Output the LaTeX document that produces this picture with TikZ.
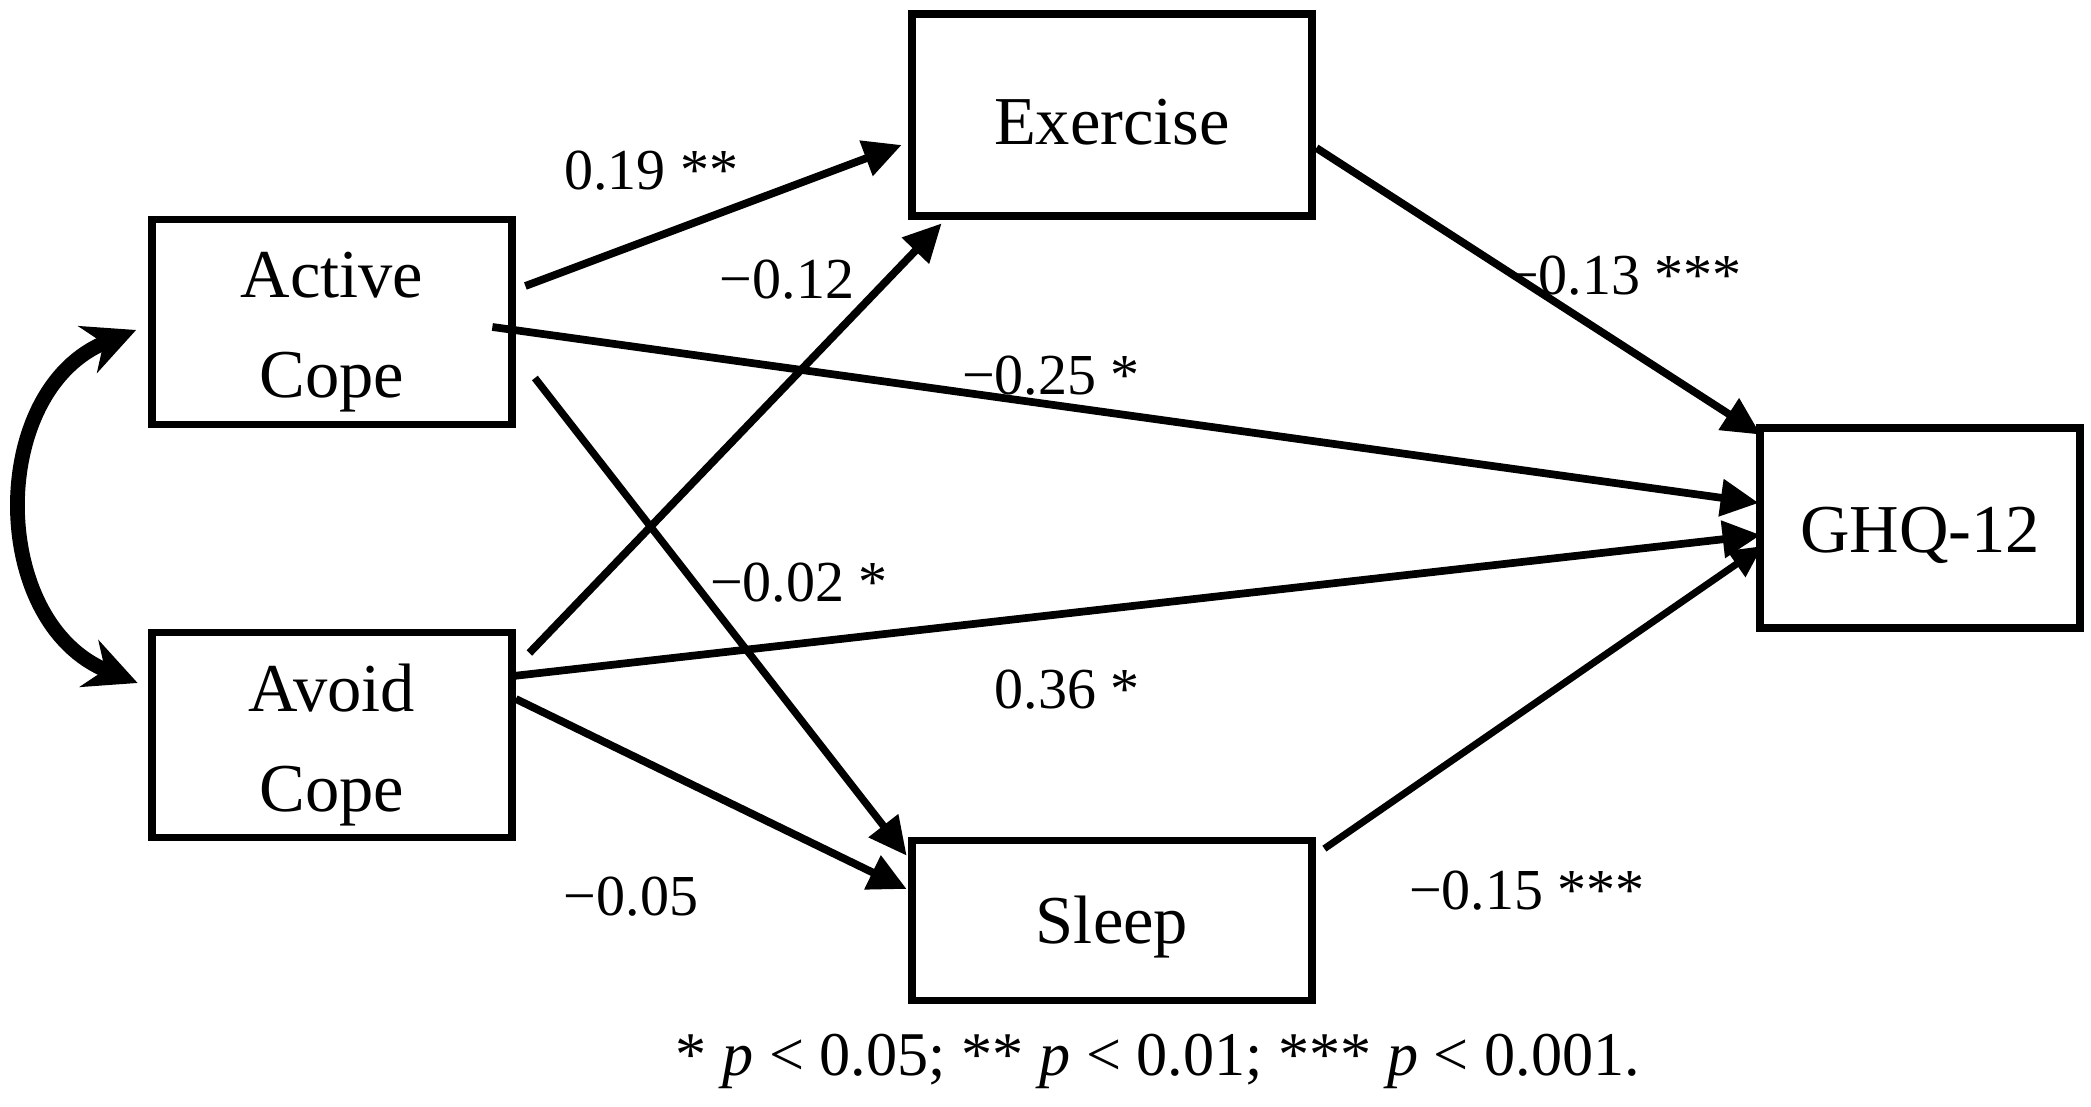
\documentclass[tikz,border=0pt]{standalone}
\usepackage{fontspec}
\setmainfont{Liberation Serif}
\usepackage{tikz}
\usetikzlibrary{arrows.meta,positioning}

\tikzset{
  var/.style={draw, line width=2.2pt, align=center, inner sep=0pt,
    font=\fontsize{19.5}{28.5}\selectfont, execute at begin node={\rule{0pt}{17pt}}},
  cope/.style={draw, line width=2.2pt, minimum width=3.6cm, minimum height=2.05cm},
  copetext/.style={align=center, inner sep=0pt, font=\fontsize{19.5}{28.5}\selectfont},
  effect/.style={line width=2.2pt, -{Triangle[length=0.38cm,width=0.36cm]}},
  coef/.style={font=\fontsize{16.5}{19}\selectfont}
}

\begin{document}
\begin{tikzpicture}
\useasboundingbox (0,0) rectangle (20.91,11.06);
\node[cope] (act) at (3.32,7.84) {};
\node[copetext] (acttext) at ([yshift=-0.1cm]act.center) {Active\\Cope};
\node[cope] (avo) at (3.32,3.71) {};
\node[copetext] (avotext) at ([yshift=-0.1cm]avo.center) {Avoid\\Cope};
\node[var, minimum width=4.0cm, minimum height=2.02cm] (exe) at (11.12,9.91) {Exercise};
\node[var, minimum width=4.0cm, minimum height=1.6cm] (slp) at (11.12,1.855) {Sleep};
\node[var, minimum width=3.2cm, minimum height=2.0cm] (ghq) at (19.2,5.78) {GHQ-12};

\draw[line width=4.2pt, {Stealth[length=0.52cm,width=0.5cm]}-{Stealth[length=0.52cm,width=0.5cm]}]
  ([shift={(-0.12,-0.08)}]act.west) .. controls (-0.13,7.16) and (-0.12,4.83) .. ([shift={(-0.105,0.52)}]avo.west);

\draw[effect] ([shift={(0.095,0.36)}]act.east) -- ([shift={(-0.065,-0.3)}]exe.west);
\draw[effect] ([shift={(0.135,0.82)}]avo.east) -- ([shift={(0.335,-0.035)}]exe.south west);
\draw[effect] ([shift={(0.005,-0.33)}]exe.east) -- ([shift={(0.045,-0.105)}]ghq.north west);
\draw[effect] ([shift={(-0.235,-0.05)}]act.east) -- ([shift={(0.025,0.25)}]ghq.west);
\draw[effect] ([shift={(-0.025,0.59)}]avo.east) -- ([shift={(0.045,-0.07)}]ghq.west);
\draw[effect, line width=2.1pt] ([shift={(0.19,-0.56)}]act.east) -- ([shift={(-0.015,-0.19)}]slp.north west);
\draw[effect] ([shift={(0,0.36)}]avo.east) -- ([shift={(-0.015,0.315)}]slp.west);
\draw[effect, line width=2pt, -{Triangle[length=0.32cm,width=0.3cm]}] ([shift={(0.085,-0.12)}]slp.north east) -- ([shift={(0.065,-0.18)}]ghq.west);

\node[coef] (l1) at (6.51,9.35) {0.19 **};
\node[coef] (l2) at (7.87,8.26) {−0.12};
\node[coef] (l3) at (16.24,8.30) {−0.13 ***};
\node[coef] (l4) at (10.51,7.30) {−0.25 *};
\node[coef] (l5) at (7.99,5.23) {−0.02 *};
\node[coef] (l6) at (10.67,4.16) {0.36 *};
\node[coef] (l7) at (6.31,2.09) {−0.05};
\node[coef] (l8) at (15.27,2.15) {−0.15 ***};
\node[coef, font=\fontsize{17.7}{20}\selectfont] (note) at (11.58,0.45) {* \textit{p} < 0.05; ** \textit{p} < 0.01; *** \textit{p} < 0.001.};
\end{tikzpicture}
\end{document}
